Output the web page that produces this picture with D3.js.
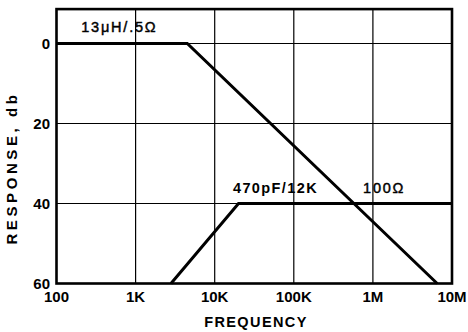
<!DOCTYPE html>
<html>
<head>
<meta charset="utf-8">
<script src="https://cdn.jsdelivr.net/npm/d3@7"></script>
<style>
  body { margin: 0; background: #fff; }
  svg { display: block; font-family: "Liberation Sans", Arial, sans-serif; }
</style>
</head>
<body>
<div id="container"></div>
<script>
// ticks
const freqTicks = [100, 1e3, 1e4, 1e5, 1e6, 1e7];
const freqLabels = ["100", "1K", "10K", "100K", "1M", "10M"];
const dbTicks = [0, 20, 40, 60];

// 13uH / .5 ohm curve
const indFreq = [100, 4500, 6500000];
const indDb = [0, 0, 60];

// 470pF / 12K curve
const rcFreq = [2800, 20000, 1e7];
const rcDb = [60, 40, 40];

// curve labels
const noteText = ["13\u03BCH/.5\u03A9", "470pF/12K", "100\u03A9"];
const noteFreq = [205, 17000, 750000];
const noteDb = [-3, 37.4, 37.4];
const noteBold = [false, true, false];

const width = 468, height = 332;

const x = d3.scaleLog().domain([100, 1e7]).range([56.5, 452]);
const y = d3.scaleLinear().domain([0, 60]).range([43.5, 283.5]);
const yTop = y(-8.6);

const svg = d3.select('#container')
  .append('svg')
  .attr('width', width)
  .attr('height', height);

svg.append('rect').attr('width', width).attr('height', height).attr('fill', '#fff');

// grid
svg.append('g')
  .selectAll('line')
  .data(freqTicks.slice(1, -1))
  .enter()
  .append('line')
  .attr('x1', d => x(d)).attr('x2', d => x(d))
  .attr('y1', yTop).attr('y2', y(60))
  .attr('stroke', '#000').attr('stroke-width', 1.2);

svg.append('g')
  .selectAll('line')
  .data(dbTicks.slice(0, -1))
  .enter()
  .append('line')
  .attr('x1', x(100)).attr('x2', x(1e7))
  .attr('y1', d => y(d)).attr('y2', d => y(d))
  .attr('stroke', '#000').attr('stroke-width', 1.2);

// frame
svg.append('rect')
  .attr('x', x(100)).attr('y', yTop)
  .attr('width', x(1e7) - x(100)).attr('height', y(60) - yTop)
  .attr('fill', 'none').attr('stroke', '#000').attr('stroke-width', 2.6);

// curves
const line = d3.line().x(d => x(d[0])).y(d => y(d[1]));
[[indFreq, indDb], [rcFreq, rcDb]].forEach(([f, v]) => {
  svg.append('path')
    .datum(f.map((d, i) => [d, v[i]]))
    .attr('d', line)
    .attr('fill', 'none')
    .attr('stroke', '#000')
    .attr('stroke-width', 3);
});

// tick labels
svg.append('g')
  .selectAll('text')
  .data(freqTicks)
  .enter()
  .append('text')
  .attr('x', d => x(d))
  .attr('y', 302)
  .attr('text-anchor', 'middle')
  .attr('font-size', 15)
  .attr('font-weight', 'bold')
  .text((d, i) => freqLabels[i]);

svg.append('g')
  .selectAll('text')
  .data(dbTicks)
  .enter()
  .append('text')
  .attr('x', 50)
  .attr('y', d => y(d))
  .attr('dy', '0.36em')
  .attr('text-anchor', 'end')
  .attr('font-size', 15)
  .attr('font-weight', 'bold')
  .text(d => d);

// curve labels
svg.append('g')
  .selectAll('text')
  .data(noteText)
  .enter()
  .append('text')
  .attr('x', (d, i) => x(noteFreq[i]))
  .attr('y', (d, i) => y(noteDb[i]))
  .attr('font-size', 14.5)
  .attr('font-weight', (d, i) => noteBold[i] ? 'bold' : 'normal')
  .attr('stroke', (d, i) => noteBold[i] ? 'none' : '#000')
  .attr('stroke-width', 0.45)
  .attr('letter-spacing', (d, i) => noteBold[i] ? 1.4 : 1.8)
  .text(d => d);

// axis titles
svg.append('text')
  .attr('x', 256)
  .attr('y', 327)
  .attr('text-anchor', 'middle')
  .attr('font-size', 14.5)
  .attr('font-weight', 'bold')
  .attr('letter-spacing', 1.4)
  .text('FREQUENCY');

svg.append('text')
  .attr('transform', 'translate(16.5,168) rotate(-90)')
  .attr('text-anchor', 'middle')
  .attr('font-size', 15)
  .attr('font-weight', 'bold')
  .attr('letter-spacing', 3.6)
  .text('RESPONSE, db');
</script>
</body>
</html>
